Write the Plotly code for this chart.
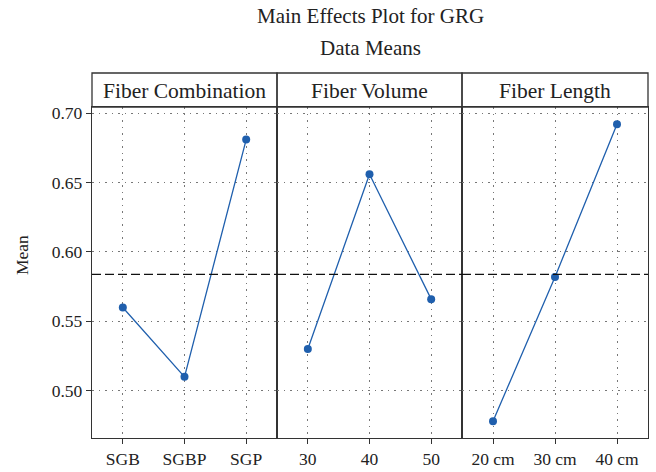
import plotly.graph_objects as go

factors = ["Fiber Combination", "Fiber Volume", "Fiber Length"]
comb_levels = ["SGB", "SGBP", "SGP"]
comb_means = [0.560, 0.510, 0.681]
vol_levels = ["30", "40", "50"]
vol_means = [0.530, 0.656, 0.566]
len_levels = ["20 cm", "30 cm", "40 cm"]
len_means = [0.478, 0.582, 0.692]

levels = [comb_levels, vol_levels, len_levels]
means = [comb_means, vol_means, len_means]
all_vals = comb_means + vol_means + len_means
grand_mean = sum(all_vals) / len(all_vals)

FONT = "Liberation Serif"
LINE = "#1f5fad"
W, H = 656, 472
L, R, T, B = 92, 8, 107, 34
pw = W - L - R
ph = H - T - B

fig = go.Figure()
bounds = [0, 185 / pw, 370 / pw, 1]
yr = [0.4659, 0.7045]

for i in range(3):
    sfx = "" if i == 0 else str(i + 1)
    fig.add_trace(go.Scatter(
        x=levels[i], y=means[i], mode="lines+markers",
        line=dict(color=LINE, width=1.3),
        marker=dict(color=LINE, size=8),
        xaxis="x" + sfx, yaxis="y" + sfx, showlegend=False))
    fig.add_shape(type="line", xref="x" + sfx + " domain", yref="y" + sfx,
                  x0=0, x1=1, y0=grand_mean, y1=grand_mean,
                  line=dict(color="#111", width=1.3, dash="9px,4px"))
    fig.update_layout(**{
        "xaxis" + sfx: dict(
            domain=[bounds[i], bounds[i + 1]], anchor="y" + sfx,
            type="category", range=[-0.5, 2.5], automargin=False,
            categoryorder="array", categoryarray=levels[i],
            showline=True, mirror=True, linecolor="#333", linewidth=1.3,
            showgrid=True, gridcolor="#777", gridwidth=1, griddash="1.5px,5px",
            ticks="outside", ticklen=5, tickcolor="#333", zeroline=False,
            tickfont=dict(family=FONT, size=17.5, color="#222")),
        "yaxis" + sfx: dict(
            domain=[0, 1], anchor="x" + sfx, range=yr, automargin=False,
            tickvals=[0.50, 0.55, 0.60, 0.65, 0.70],
            ticktext=["0.50", "0.55", "0.60", "0.65", "0.70"],
            showticklabels=(i == 0), ticks="outside" if i == 0 else "",
            ticklen=5, tickcolor="#333",
            showline=True, mirror=True, linecolor="#333", linewidth=1.3,
            showgrid=True, gridcolor="#777", gridwidth=1, griddash="1.5px,5px",
            zeroline=False,
            tickfont=dict(family=FONT, size=17.5, color="#222")),
    })
    # header boxes
    fig.add_shape(type="rect", xref="paper", yref="paper",
                  x0=bounds[i], x1=bounds[i + 1], y0=1, y1=1 + 34 / ph,
                  line=dict(color="#333", width=1.3), fillcolor="rgba(0,0,0,0)")
    fig.add_annotation(text=factors[i], xref="paper", yref="paper",
                       x=(bounds[i] + bounds[i + 1]) / 2, y=1 + 16 / ph,
                       showarrow=False, xanchor="center", yanchor="middle",
                       font=dict(family=FONT, size=21.5, color="#222"))

fig.add_annotation(text="Main Effects Plot for GRG", xref="paper", yref="paper",
                   x=0.5, y=1 + (T - 16) / ph, showarrow=False,
                   xanchor="center", yanchor="middle",
                   font=dict(family=FONT, size=21, color="#222"))
fig.add_annotation(text="Data Means", xref="paper", yref="paper",
                   x=0.5, y=1 + (T - 48) / ph, showarrow=False,
                   xanchor="center", yanchor="middle",
                   font=dict(family=FONT, size=21, color="#222"))
fig.add_annotation(text="Mean", xref="paper", yref="paper",
                   x=(22 - L) / pw, y=(438 - 255) / ph, showarrow=False,
                   textangle=-90, xanchor="center", yanchor="middle",
                   font=dict(family=FONT, size=17.5, color="#222"))

fig.update_layout(width=W, height=H, margin=dict(l=L, r=R, t=T, b=B),
                  paper_bgcolor="white", plot_bgcolor="white")
fig.write_html("out.html")
